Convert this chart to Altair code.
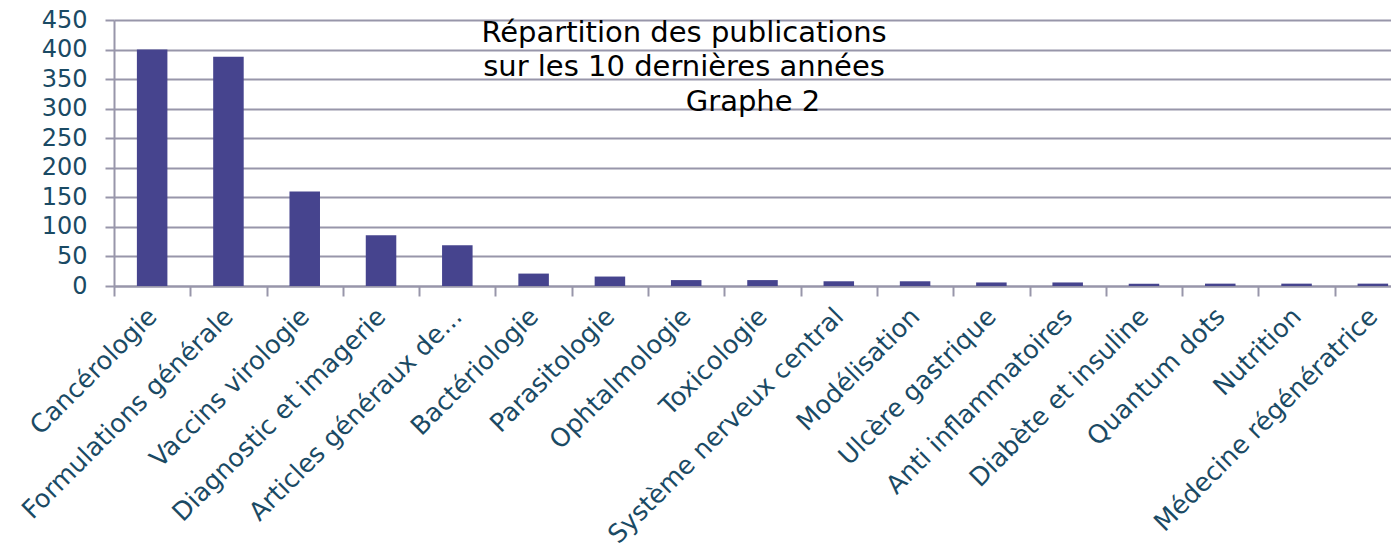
import altair as alt
import pandas as pd

categories = [
    "Cancérologie", "Formulations générale", "Vaccins virologie",
    "Diagnostic et imagerie", "Articles généraux de...", "Bactériologie",
    "Parasitologie", "Ophtalmologie", "Toxicologie", "Système nerveux central",
    "Modélisation", "Ulcère gastrique", "Anti inflammatoires",
    "Diabète et insuline", "Quantum dots", "Nutrition", "Médecine régénératrice",
]
values = [400, 388, 160, 86, 69, 21, 16, 10, 10, 8, 8, 6, 6, 4, 4, 4, 4]
y_ticks = [0, 50, 100, 150, 200, 250, 300, 350, 400, 450]
title_lines = ["Répartition des publications", "sur les 10 dernières années", "Graphe 2"]

df = pd.DataFrame({"cat": categories, "val": values})

FONT = "DejaVu Sans"
LABEL_COLOR = "#1A4A64"
GRID = "#9896AA"

bars = alt.Chart(df).mark_bar(color="#46448E", width={"band": 0.4}).encode(
    x=alt.X("cat:N", sort=categories, title=None,
            scale=alt.Scale(range=[0, 1297], paddingInner=0, paddingOuter=0),
            axis=alt.Axis(labelAngle=-45, labelAlign="right", labelBaseline="middle",
                          labelFontSize=25.5, labelFont=FONT,
                          labelColor=LABEL_COLOR, domainColor=GRID, domainWidth=2,
                          tickColor=GRID, tickWidth=2, tickSize=10, tickBand="extent",
                          labelPadding=16, grid=False, labelOverlap=False,
                          labelLimit=500)),
    y=alt.Y("val:Q", title=None,
            scale=alt.Scale(domain=[0, 450], nice=False),
            axis=alt.Axis(values=y_ticks, labelFontSize=24, labelFont=FONT,
                          labelColor=LABEL_COLOR, domainColor=GRID, domainWidth=2,
                          tickColor=GRID, tickWidth=2, tickSize=9, labelPadding=18,
                          gridColor=GRID, gridWidth=2)),
)

tdf = pd.DataFrame({"t": title_lines})
positions = [(570, 22), (570, 56), (639, 91)]
texts = []
for line, (px, py) in zip(title_lines, positions):
    texts.append(
        alt.Chart(tdf).transform_filter(alt.datum.t == line).mark_text(
            font=FONT, fontSize=29, color="black", baseline="alphabetic").encode(
            text="t:N", x=alt.value(px), y=alt.value(py))
    )

chart = alt.layer(bars, *texts).properties(
    width=1277, height=266,
    autosize=alt.AutoSizeParams(type="none"),
    padding={"left": 106, "top": 12, "right": 0, "bottom": 264},
).configure_view(stroke=None)

chart.save("out.html", embed_options={"renderer": "svg", "actions": False})
